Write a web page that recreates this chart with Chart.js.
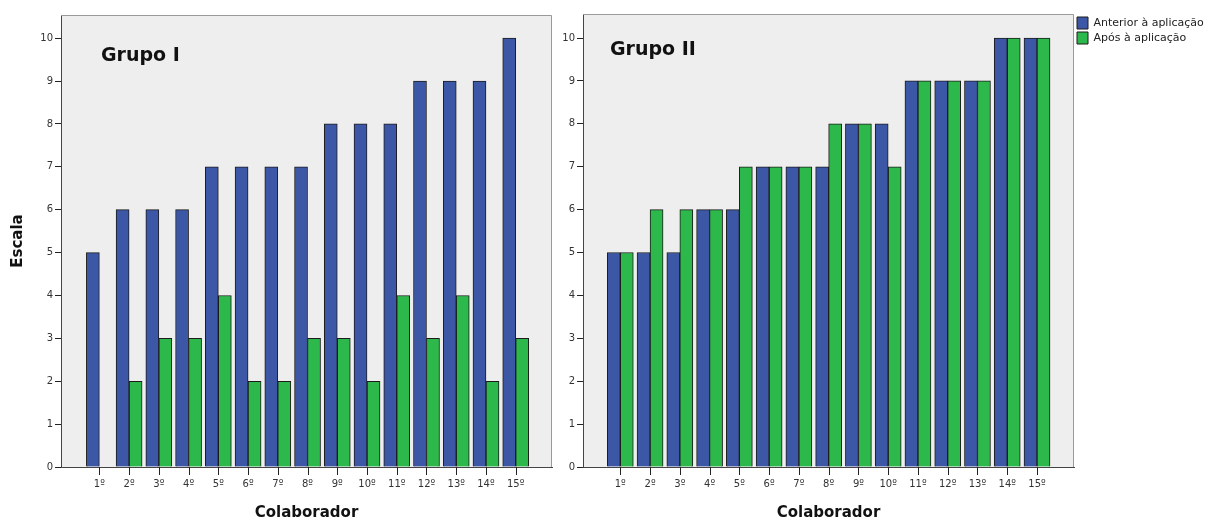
<!DOCTYPE html>
<html><head><meta charset="utf-8">
<script src="https://cdn.jsdelivr.net/npm/chart.js@4/dist/chart.umd.min.js"></script>
<style>
html,body{margin:0;padding:0;background:#fff;overflow:hidden;width:1206px;height:519px;}
canvas{position:absolute;top:0;}
#c1{left:0;}
#c2{left:560px;}
</style></head><body>
<canvas id="c1" width="560" height="519"></canvas>
<canvas id="c2" width="646" height="519"></canvas>
<script>
// ---- data ----
const categories = ['1º','2º','3º','4º','5º','6º','7º','8º','9º','10º','11º','12º','13º','14º','15º'];
const seriesNames = ['Anterior à aplicação', 'Após à aplicação'];
const groupTitles = ['Grupo I', 'Grupo II'];
const groupI_before  = [5, 6, 6, 6, 7, 7, 7, 7, 8, 8, 8, 9, 9, 9, 10];
const groupI_after   = [null, 2, 3, 3, 4, 2, 2, 3, 3, 2, 4, 3, 4, 2, 3];
const groupII_before = [5, 5, 5, 6, 6, 7, 7, 7, 8, 8, 9, 9, 9, 10, 10];
const groupII_after  = [5, 6, 6, 6, 7, 7, 7, 8, 8, 7, 9, 9, 9, 10, 10];
const yTicks = [0, 1, 2, 3, 4, 5, 6, 7, 8, 9, 10];
const yAxisTitle = 'Escala';
const xAxisTitle = 'Colaborador';

// ---- styling ----
const BLUE = '#3d57a7', GREEN = '#2db84b', EDGE = '#1c1c1c';
const tickFont = { family: 'DejaVu Sans', size: 10 };
const titleFont = { family: 'DejaVu Sans', size: 15, weight: 'bold' };

const toPoints = arr => arr.map((v, i) => ({ x: i + 1, y: v }));

const panelPlugin = {
  id: 'panel',
  beforeDraw(chart) {
    const { ctx, chartArea: a } = chart;
    ctx.save();
    ctx.fillStyle = '#eeeeee';
    ctx.fillRect(a.left, a.top, a.right - a.left, a.bottom - a.top);
    ctx.restore();
  },
  beforeDatasetsDraw(chart) {
    const { ctx, chartArea: a } = chart;
    ctx.save();
    ctx.strokeStyle = '#9a9a9a';
    ctx.lineWidth = 1;
    ctx.beginPath();
    ctx.moveTo(a.left, a.top + 0.5);
    ctx.lineTo(a.right - 0.5, a.top + 0.5);
    ctx.lineTo(a.right - 0.5, a.bottom);
    ctx.stroke();
    ctx.restore();
  },
  afterDraw(chart, args, opts) {
    const { ctx, chartArea: a } = chart;
    // x-axis tick marks below the axis line, placed by the x scale
    const xs = chart.scales.x;
    ctx.save();
    ctx.strokeStyle = '#222';
    ctx.lineWidth = 1;
    ctx.beginPath();
    xs.ticks.forEach((t, i) => {
      const px = Math.round(xs.getPixelForTick(i)) + 0.5;
      ctx.moveTo(px, a.bottom);
      ctx.lineTo(px, a.bottom + 8);
    });
    ctx.stroke();
    ctx.restore();
    // panel title
    ctx.save();
    ctx.font = 'bold 19px "DejaVu Sans"';
    ctx.fillStyle = '#111';
    ctx.textBaseline = 'alphabetic';
    ctx.textAlign = 'left';
    ctx.fillText(opts.text, a.left + opts.dx, a.top + opts.dy);
    ctx.restore();
  }
};

function makeChart(id, title, before, after, opts) {
  return new Chart(document.getElementById(id), {
    type: 'bar',
    data: {
      datasets: [
        { label: seriesNames[0], data: toPoints(before), backgroundColor: BLUE, borderColor: EDGE, borderWidth: 1, barThickness: 13 },
        { label: seriesNames[1], data: toPoints(after), backgroundColor: GREEN, borderColor: EDGE, borderWidth: 1, barThickness: 13 }
      ]
    },
    options: {
      responsive: false,
      animation: false,
      devicePixelRatio: 1,
      layout: { padding: opts.padding },
      plugins: {
        legend: opts.legend,
        tooltip: { enabled: false },
        panel: { text: title, dx: opts.tdx, dy: opts.tdy }
      },
      scales: {
        x: {
          type: 'linear',
          offset: false,
          min: opts.xmin, max: opts.xmax,
          afterBuildTicks(s) { s.ticks = categories.map((_, i) => ({ value: i + 1 })); },
          afterFit(s) { s.height = 52; },
          ticks: { autoSkip: false, maxRotation: 0, font: tickFont, color: '#333', padding: 11,
                   callback: v => categories[v - 1] ?? '' },
          grid: { offset: false, drawOnChartArea: false, drawTicks: false, color: '#222' },
          border: { display: true, color: '#444', width: 1 },
          title: { display: true, text: xAxisTitle, font: titleFont, color: '#111', padding: { top: 0, bottom: -3 } }
        },
        y: {
          min: 0, max: opts.ymax,
          afterBuildTicks(s) { s.ticks = yTicks.map(v => ({ value: v })); },
          afterFit(s) { s.width = opts.yWidth; },
          ticks: { font: tickFont, color: '#333', padding: 2 },
          grid: { drawOnChartArea: false, drawTicks: true, tickLength: 6, color: '#222' },
          border: { display: true, color: '#444', width: 1 },
          title: { display: opts.yTitle, text: yAxisTitle, font: titleFont, color: '#111', padding: { top: 9, bottom: 0 } }
        }
      }
    },
    plugins: [panelPlugin]
  });
}

makeChart('c1', groupTitles[0], groupI_before, groupI_after, {
  padding: { top: 15, right: 8, left: 0, bottom: 0 },
  legend: { display: false },
  xmin: -0.29, xmax: 16.22, ymax: 10.54, yWidth: 61, yTitle: true, tdx: 40, tdy: 46
});

makeChart('c2', groupTitles[1], groupII_before, groupII_after, {
  padding: { top: 14, right: 0, left: 0, bottom: 0 },
  legend: { display: true, position: 'right', align: 'start', maxWidth: 132,
            labels: { boxWidth: 11, boxHeight: 12, padding: 3, color: '#222',
                      font: { family: 'DejaVu Sans', size: 11 } } },
  xmin: -0.253, xmax: 16.243, ymax: 10.56, yWidth: 23, yTitle: false, tdx: 27, tdy: 41
});
</script>
</body></html>
